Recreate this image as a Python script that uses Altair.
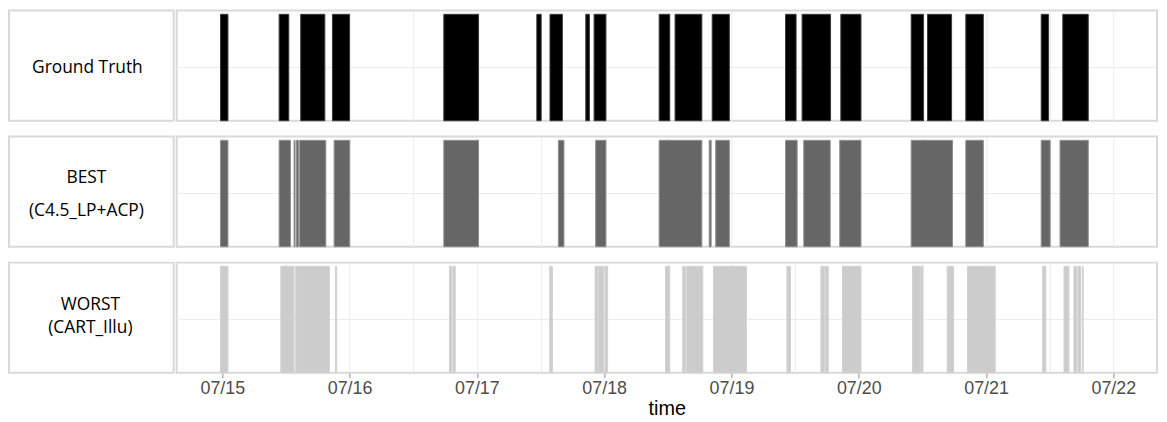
import altair as alt
import pandas as pd

YEAR = "2013"

row_labels = ["Ground Truth", "BEST\n(C4.5_LP+ACP)", "WORST\n(CART_Illu)"]

gt_start = ["07-14 23:40", "07-15 10:43", "07-15 14:47", "07-15 20:46", "07-16 17:46",
            "07-17 11:18", "07-17 13:47", "07-17 20:32", "07-17 22:06", "07-18 10:22",
            "07-18 13:22", "07-18 20:22", "07-19 10:12", "07-19 13:19", "07-19 20:37",
            "07-20 09:53", "07-20 12:58", "07-20 20:11", "07-21 10:24", "07-21 14:28"]
gt_end = ["07-15 01:04", "07-15 12:32", "07-15 19:20", "07-16 00:00", "07-17 00:19",
          "07-17 12:07", "07-17 16:07", "07-17 21:13", "07-18 00:20", "07-18 12:22",
          "07-18 18:25", "07-18 23:36", "07-19 12:11", "07-19 18:41", "07-20 00:25",
          "07-20 12:13", "07-20 17:30", "07-20 23:29", "07-21 11:47", "07-21 19:16"]

best_start = ["07-14 23:40", "07-15 10:43", "07-15 13:32", "07-15 13:58", "07-15 14:35",
              "07-15 21:05", "07-16 17:46", "07-17 15:22", "07-17 22:24", "07-18 10:22",
              "07-18 19:48", "07-18 21:02", "07-19 10:12", "07-19 13:38", "07-19 20:25",
              "07-20 09:53", "07-20 20:11", "07-21 10:24", "07-21 13:57"]
best_end = ["07-15 01:04", "07-15 12:51", "07-15 13:43", "07-15 14:21", "07-15 19:31",
            "07-16 00:02", "07-17 00:19", "07-17 16:25", "07-18 00:20", "07-18 18:25",
            "07-18 20:10", "07-18 23:36", "07-19 12:23", "07-19 18:37", "07-20 00:25",
            "07-20 17:41", "07-20 23:29", "07-21 12:05", "07-21 19:16"]

worst_start = ["07-14 23:40", "07-15 11:02", "07-15 13:50", "07-15 21:20", "07-16 18:50",
               "07-16 19:28", "07-17 13:44", "07-17 22:17", "07-17 22:54", "07-18 00:09",
               "07-18 11:34", "07-18 14:48", "07-18 15:33", "07-18 20:36", "07-19 10:27",
               "07-19 16:52", "07-19 17:41", "07-19 20:56", "07-20 10:09", "07-20 11:40",
               "07-20 16:40", "07-20 20:30", "07-21 10:40", "07-21 14:42", "07-21 16:34",
               "07-21 17:19", "07-21 18:08"]
worst_end = ["07-15 01:04", "07-15 13:32", "07-15 20:12", "07-15 21:34", "07-16 19:13",
             "07-16 19:55", "07-17 14:14", "07-17 22:46", "07-17 23:54", "07-18 00:39",
             "07-18 12:22", "07-18 15:18", "07-18 18:36", "07-19 02:50", "07-19 11:08",
             "07-19 17:30", "07-19 18:15", "07-20 00:25", "07-20 11:34", "07-20 12:05",
             "07-20 17:53", "07-21 01:44", "07-21 11:17", "07-21 15:38", "07-21 17:05",
             "07-21 17:49", "07-21 18:19"]

fills = ["#000000", "#666666", "#cccccc"]
strokes = ["#3a3a3a", "#8f8f8f", "#d2d2d2"]


def iso(s):
    md, hm = s.split(" ")
    return f"{YEAR}-{md}T{hm}:00"


def frame(starts, ends):
    return pd.DataFrame({
        "start": [iso(s) for s in starts],
        "end": [iso(e) for e in ends],
        "lo": [0] * len(starts),
        "hi": [1] * len(starts),
    })


series = [frame(gt_start, gt_end), frame(best_start, best_end), frame(worst_start, worst_end)]

x_domain = [alt.DateTime(year=2013, month=7, date=14, hours=15, minutes=24),
            alt.DateTime(year=2013, month=7, date=22, hours=8, minutes=14)]
grid_vals = [alt.DateTime(year=2013, month=7, date=d, hours=h)
             for d in range(15, 23) for h in (0, 12) if not (d == 22 and h == 12)]

H = 111
LABEL_W = 166
PLOT_W = 988
label_y = [58, 42, 43]
label_x = [79, 78, 82]
line_heights = [20, 33, 23]

rows = []
for i in range(3):
    last = i == 2
    if last:
        xaxis = alt.Axis(
            values=grid_vals,
            labelExpr="hours(datum.value) == 0 ? timeFormat(datum.value, '%m/%d') : ''",
            tickOpacity={"condition": {"test": "hours(datum.value) == 0", "value": 1}, "value": 0},
            grid=True, gridColor="#ebebeb", gridWidth=1,
            domain=False, tickColor="#b5b5b5", tickSize=5, tickWidth=1.5,
            labelColor="#4d4d4d", labelFontSize=18, labelFont="Liberation Sans",
            labelPadding=2, labelOverlap=False, labelFlush=False,
            title="time", titleFontSize=20, titleFont="Liberation Sans",
            titleFontWeight="normal", titleColor="#000000", titlePadding=1,
        )
    else:
        xaxis = alt.Axis(values=grid_vals, labels=False, ticks=False, domain=False,
                         title=None, grid=True, gridColor="#ebebeb", gridWidth=1)

    xenc = alt.X("start:T", scale=alt.Scale(domain=x_domain, nice=False), axis=xaxis)
    yscale = alt.Scale(domain=[0, 1.035])

    lbl_df = pd.DataFrame({"label": [row_labels[i]]})
    label = alt.Chart(lbl_df).mark_text(
        align="center", baseline="middle", lineBreak="\n",
        lineHeight=line_heights[i], fontSize=17.5, font="Open Sans", color="#000000",
    ).encode(
        x=alt.value(label_x[i]), y=alt.value(label_y[i]), text="label:N"
    ).properties(width=LABEL_W, height=H)

    mid = alt.Chart(pd.DataFrame({"m": [0.5]})).mark_rule(color="#ebebeb", strokeWidth=1).encode(
        y=alt.Y("m:Q", scale=yscale, axis=None)
    )
    bars = alt.Chart(series[i]).mark_rect(color=fills[i], stroke=strokes[i], strokeWidth=1).encode(
        x=xenc, x2="end:T",
        y=alt.Y("lo:Q", scale=yscale, axis=None), y2="hi:Q",
    )
    plot = alt.layer(mid, bars).properties(width=PLOT_W, height=H)
    rows.append(alt.hconcat(label, plot, spacing=0))

chart = alt.vconcat(*rows, spacing=13).properties(
    padding=0, background="#ffffff"
).configure_view(stroke="#d9d9d9", strokeWidth=2).configure_concat(spacing=0)

chart.save("out.html", embed_options={"renderer": "svg", "actions": False})
